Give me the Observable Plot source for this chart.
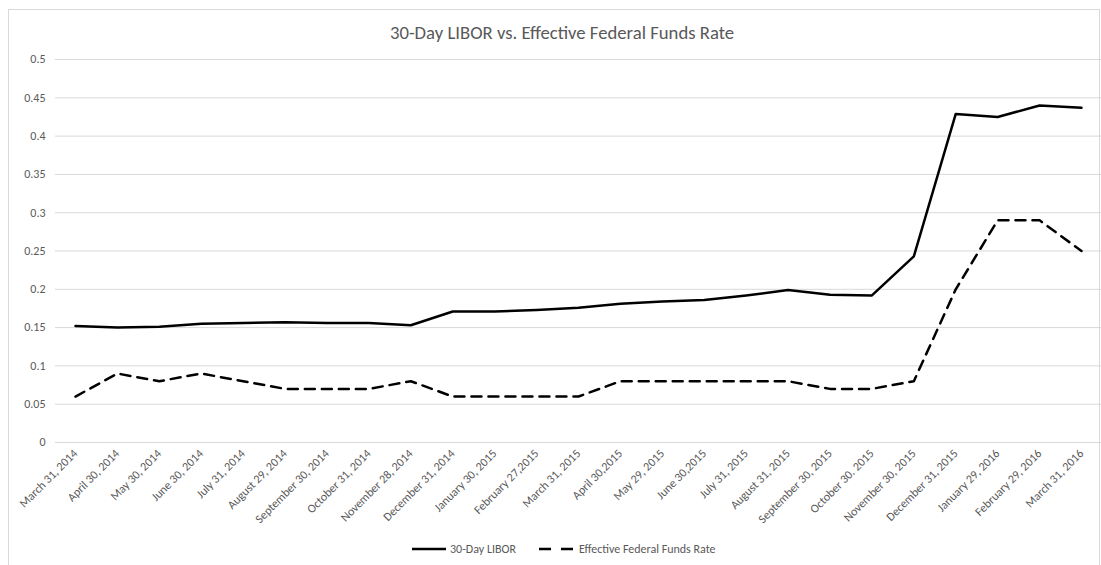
<!DOCTYPE html>
<html>
<head>
<meta charset="utf-8">
<script src="https://cdn.jsdelivr.net/npm/d3@7"></script>
<script src="https://cdn.jsdelivr.net/npm/@observablehq/plot@0.6"></script>
<style>
  html, body { margin: 0; padding: 0; background: #fff; }
  #wrap { position: relative; width: 1101px; height: 565px; overflow: hidden; font-family: Carlito, Lato, "Liberation Sans", Arial, sans-serif; }
  #frame { position: absolute; left: 8px; top: 9px; width: 1092px; height: 560px; border: 1px solid #d9d9d9; box-sizing: border-box; }
  #title { position: absolute; left: 0; width: 1124px; top: 21px; text-align: center; font-size: 18.7px; color: #595959; }
  #legend { position: absolute; top: 541px; left: 0; width: 1101px; color: #595959; }
  #chart { position: absolute; left: 0; top: 0; }
</style>
</head>
<body>
<div id="wrap">
  <div id="frame"></div>
  <div id="chart"></div>
  <div id="title">30-Day LIBOR vs. Effective Federal Funds Rate</div>
  <svg id="legend" width="1101" height="20"></svg>
</div>
<script>
const dates = [
  "March 31, 2014", "April 30, 2014", "May 30, 2014", "June 30, 2014", "July 31, 2014",
  "August 29, 2014", "September 30, 2014", "October 31, 2014", "November 28, 2014",
  "December 31, 2014", "January 30, 2015", "February 27,2015", "March 31, 2015",
  "April 30,2015", "May 29, 2015", "June 30,2015", "July 31, 2015", "August 31, 2015",
  "September 30, 2015", "October 30. 2015", "November 30, 2015", "December 31, 2015",
  "January 29, 2016", "February 29, 2016", "March 31, 2016"
];
const libor = [0.152, 0.150, 0.151, 0.155, 0.156, 0.157, 0.156, 0.156, 0.153, 0.171,
  0.171, 0.173, 0.176, 0.181, 0.184, 0.186, 0.192, 0.199, 0.193, 0.192,
  0.243, 0.429, 0.425, 0.440, 0.437];
const effr = [0.06, 0.09, 0.08, 0.09, 0.08, 0.07, 0.07, 0.07, 0.08, 0.06,
  0.06, 0.06, 0.06, 0.08, 0.08, 0.08, 0.08, 0.08, 0.07, 0.07,
  0.08, 0.20, 0.29, 0.29, 0.25];
const yTicks = [0, 0.05, 0.1, 0.15, 0.2, 0.25, 0.3, 0.35, 0.4, 0.45, 0.5];
const seriesNames = ["30-Day LIBOR", "Effective Federal Funds Rate"];

const rows = [];
dates.forEach((d, i) => {
  rows.push({date: d, value: libor[i], series: seriesNames[0]});
  rows.push({date: d, value: effr[i], series: seriesNames[1]});
});

const font = 'Carlito, Lato, "Liberation Sans", Arial, sans-serif';
const chart = Plot.plot({
  width: 1101,
  height: 565,
  marginLeft: 55,
  marginRight: 0,
  marginTop: 59,
  marginBottom: 123,
  style: {fontFamily: font, fontSize: "12px", color: "#595959", background: "transparent"},
  x: {type: "point", domain: dates, range: [75, 1081], padding: 0, round: false},
  y: {domain: [0, 0.5]},
  marks: [
    Plot.ruleY(yTicks, {stroke: "#d9d9d9", strokeWidth: 1}),
    Plot.axisY({ticks: yTicks, tickSize: 0, tickPadding: 10, label: null, tickFormat: d => String(+d.toFixed(2)), fill: "#595959", fontSize: "12px"}),
    Plot.axisX({tickSize: 0, tickRotate: -45, tickPadding: 9, label: null, fill: "#595959", fontSize: "12px"}),
    Plot.line(rows.filter(r => r.series === seriesNames[0]), {x: "date", y: "value", stroke: "#000", strokeWidth: 2.5}),
    Plot.line(rows.filter(r => r.series === seriesNames[1]), {x: "date", y: "value", stroke: "#000", strokeWidth: 2.5, strokeDasharray: "10,7"})
  ]
});
document.getElementById("chart").appendChild(chart);

// Legend
const lg = d3.select("#legend");
lg.append("line").attr("x1", 412).attr("x2", 446).attr("y1", 8).attr("y2", 8).attr("stroke", "#000").attr("stroke-width", 2.5);
lg.append("text").attr("x", 450).attr("y", 12).attr("fill", "#595959").attr("font-family", font).attr("font-size", "12px").text(seriesNames[0]);
lg.append("line").attr("x1", 539).attr("x2", 574).attr("y1", 8).attr("y2", 8).attr("stroke", "#000").attr("stroke-width", 2.5).attr("stroke-dasharray", "12,10");
lg.append("text").attr("x", 579).attr("y", 12).attr("fill", "#595959").attr("font-family", font).attr("font-size", "12px").text(seriesNames[1]);
</script>
</body>
</html>
